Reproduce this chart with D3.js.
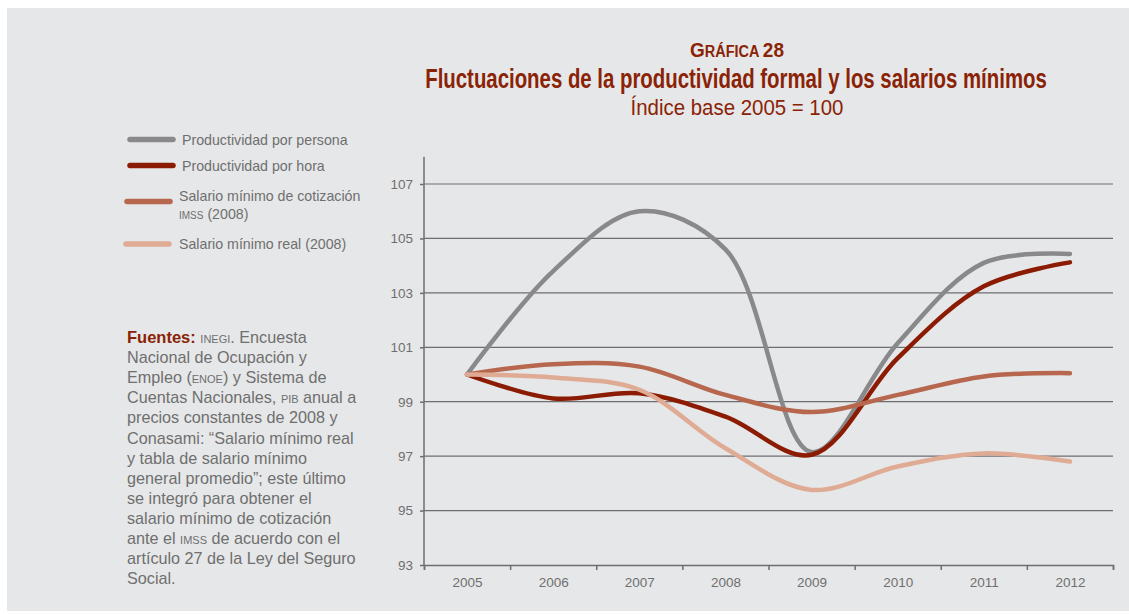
<!DOCTYPE html>
<html>
<head>
<meta charset="utf-8">
<script src="https://cdn.jsdelivr.net/npm/d3@7/dist/d3.min.js"></script>
<style>
  html, body { margin: 0; padding: 0; background: #fff; }
  svg { display: block; }
  text { font-family: "Liberation Sans", Arial, sans-serif; }
</style>
</head>
<body>
<svg id="chart" width="1129" height="614"></svg>
<script>
// data (index, 2005 = 100)
const years = [2005, 2006, 2007, 2008, 2009, 2010, 2011, 2012];
const prodPersona = [100, 103.8, 106.0, 104.6, 97.15, 101.15, 104.1, 104.43];
const prodHora = [100, 99.12, 99.31, 98.45, 97.05, 100.6, 103.24, 104.12];
const salarioImss = [100, 100.38, 100.29, 99.25, 98.62, 99.25, 99.93, 100.05];
const salarioReal = [100, 99.89, 99.44, 97.29, 95.76, 96.62, 97.1, 96.8];
const yTicks = [93, 95, 97, 99, 101, 103, 105, 107];

const seriesNames = ['Productividad por persona', 'Productividad por hora', 'Salario mínimo de cotización', 'Salario mínimo real (2008)'];
const seriesColors = ['#89898b', '#8b1b02', '#b6674d', '#dfab94'];

const svg = d3.select('#chart');
const titleColor = '#8a2306';
const textGray = '#6f6f6f';

// panel
svg.append('rect').attr('x', 7).attr('y', 8).attr('width', 1122).attr('height', 603).attr('fill', '#e6e7e8');

// condensed look: squeeze a centred text horizontally to the given width
function squeeze(sel, cx, cy, w) {
  const cur = sel.node().getComputedTextLength();
  sel.attr('transform', `translate(${cx},${cy}) scale(${(w / cur).toFixed(4)},1)`);
}

// titles
const gt = svg.append('text').attr('text-anchor', 'middle')
  .attr('fill', titleColor).attr('font-weight', 'bold');
gt.append('tspan').attr('font-size', 21).text('G');
gt.append('tspan').attr('font-size', 16).text('RÁFICA ');
gt.append('tspan').attr('font-size', 21).text('28');
squeeze(gt, 737, 57, 94);

const t1 = svg.append('text').attr('text-anchor', 'middle')
  .attr('fill', titleColor).attr('font-weight', 'bold')
  .attr('font-size', 27)
  .text('Fluctuaciones de la productividad formal y los salarios mínimos');
squeeze(t1, 736, 88, 622);

const t2 = svg.append('text').attr('text-anchor', 'middle')
  .attr('fill', titleColor)
  .attr('font-size', 22)
  .text('Índice base 2005 = 100');
squeeze(t2, 737, 115, 213);

// scales
const x = d3.scaleLinear().domain([2004.5, 2012.5]).range([424, 1113]);
const y = d3.scaleLinear().domain([93, 107]).range([565, 184]);

// gridlines
svg.append('g').selectAll('line').data(yTicks.filter(d => d > 93)).join('line')
  .attr('x1', x(2004.5)).attr('x2', x(2012.5))
  .attr('y1', d => y(d)).attr('y2', d => y(d))
  .attr('stroke', '#6e6e70').attr('stroke-width', 1.2);

// y axis
const yAxis = svg.append('g').attr('transform', `translate(${x(2004.5)},0)`)
  .call(d3.axisLeft(y).tickValues(yTicks).tickSize(4).tickPadding(7));
yAxis.select('.domain').attr('d', `M0,${y(108)}V${y(93)}`);

// x axis: marks at band edges, labels at years
svg.append('g').attr('transform', `translate(0,${y(93)})`)
  .call(d3.axisBottom(x).tickValues(d3.range(2004.5, 2013, 1)).tickFormat('').tickSize(5));
svg.append('g').attr('transform', `translate(0,${y(93)})`)
  .call(d3.axisBottom(x).tickValues(years).tickFormat(d3.format('d')).tickSize(0).tickPadding(12))
  .select('.domain').remove();

svg.selectAll('.domain').attr('stroke', '#6e6e70').attr('stroke-width', 1.5);
svg.selectAll('.tick line').attr('stroke', '#6e6e70').attr('stroke-width', 1.5);
svg.selectAll('.tick text').attr('fill', textGray).attr('font-size', 13.5)
  .attr('font-family', '"Liberation Sans", Arial, sans-serif');

// lines
const line = d3.line()
  .x((d, i) => x(years[i]))
  .y(d => y(d))
  .curve(d3.curveCatmullRom.alpha(0.5));

const allSeries = [prodPersona, prodHora, salarioImss, salarioReal];
svg.append('g').selectAll('path').data(allSeries).join('path')
  .attr('d', d => line(d))
  .attr('fill', 'none')
  .attr('stroke', (d, i) => seriesColors[i])
  .attr('stroke-width', 4.5)
  .attr('stroke-linecap', 'round')
  .attr('stroke-linejoin', 'round');

// legend
const legendRows = [
  { y: 139.5, x1: 130, x2: 173, tx: 182, lines: [seriesNames[0]] },
  { y: 165.5, x1: 130, x2: 173, tx: 182, lines: [seriesNames[1]] },
  { y: 201.5, x1: 127, x2: 170, tx: 179, lines: [seriesNames[2], null] },
  { y: 244, x1: 126, x2: 169, tx: 179, lines: [seriesNames[3]] }
];
const lg = svg.append('g');
legendRows.forEach((r, i) => {
  lg.append('line').attr('x1', r.x1).attr('x2', r.x2).attr('y1', r.y).attr('y2', r.y)
    .attr('stroke', seriesColors[i]).attr('stroke-width', 5.5).attr('stroke-linecap', 'round');
  if (r.lines.length === 1) {
    lg.append('text').attr('x', r.tx).attr('y', r.y + 5).attr('font-size', 14.2).attr('fill', textGray).text(r.lines[0]);
  } else {
    lg.append('text').attr('x', r.tx).attr('y', r.y - 0.5).attr('font-size', 14.2).attr('fill', textGray).text(r.lines[0]);
    const t = lg.append('text').attr('x', r.tx).attr('y', r.y + 17).attr('font-size', 14.2).attr('fill', textGray);
    t.append('tspan').attr('font-size', 10).text('IMSS');
    t.append('tspan').text(' (2008)');
  }
});

// sources note; [text, style]
const noteLines = [
  [['Fuentes: ', 'b'], ['INEGI', 's'], ['. Encuesta', '']],
  [['Nacional de Ocupación y', '']],
  [['Empleo (', ''], ['ENOE', 's'], [') y Sistema de', '']],
  [['Cuentas Nacionales, ', ''], ['PIB', 's'], [' anual a', '']],
  [['precios constantes de 2008 y', '']],
  [['Conasami: “Salario mínimo real', '']],
  [['y tabla de salario mínimo', '']],
  [['general promedio”; este último', '']],
  [['se integró para obtener el', '']],
  [['salario mínimo de cotización', '']],
  [['ante el ', ''], ['IMSS', 's'], [' de acuerdo con el', '']],
  [['artículo 27 de la Ley del Seguro', '']],
  [['Social.', '']]
];
const note = svg.append('g');
noteLines.forEach((parts, i) => {
  const t = note.append('text').attr('x', 127).attr('y', 343 + i * 20.1)
    .attr('font-size', 16.2).attr('fill', textGray);
  parts.forEach(p => {
    const s = t.append('tspan').text(p[0]);
    if (p[1] === 'b') s.attr('fill', titleColor).attr('font-weight', 'bold').attr('font-size', 16.5);
    if (p[1] === 's') s.attr('font-size', 11);
  });
});
</script>
</body>
</html>
